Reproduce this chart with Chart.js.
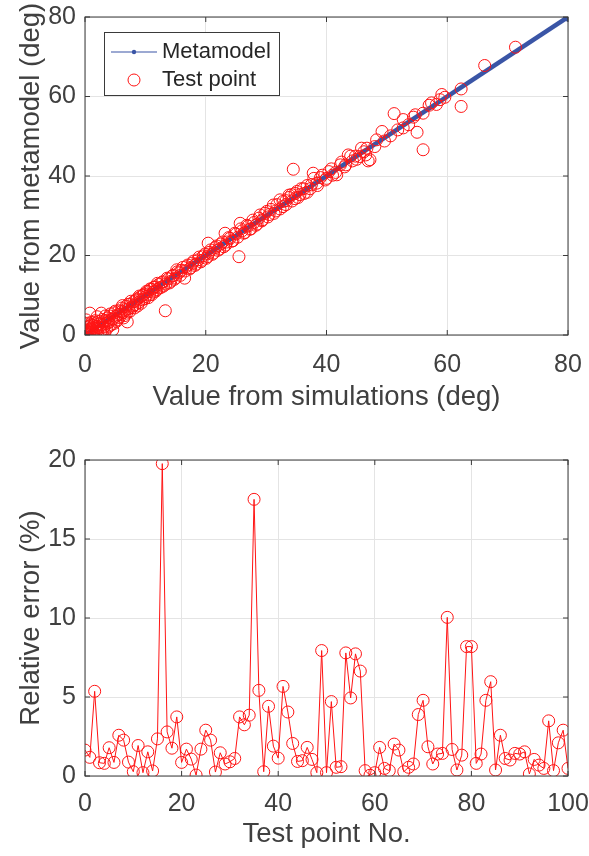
<!DOCTYPE html>
<html>
<head>
<meta charset="utf-8">
<script src="https://cdn.jsdelivr.net/npm/chart.js@4.4.1/dist/chart.umd.min.js"></script>
<style>
    html, body { margin: 0; padding: 0; background: #fff; }
    .caja { position: absolute; left: 0; width: 589px; height: 428px; }
</style>
</head>
<body>
<div class="caja" style="top:0"><canvas id="graficaAjuste" width="589" height="428"></canvas></div>
<div class="caja" style="top:428px"><canvas id="graficaError" width="589" height="428"></canvas></div>
<script>
// ======================
// DATOS
// ======================
// grafica de arriba: valor de simulacion vs valor del metamodelo
const simX = [0.1,0.2,0.3,0.4,0.5,0.6,0.2,0.8,0.9,1.0,0.8,1.2,1.3,1.5,1.6,1.8,2.0,2.1,2.3,2.5,
    2.7,2.8,3.0,3.2,3.3,3.5,3.7,3.9,4.1,4.3,4.6,4.7,4.9,5.1,5.4,5.6,5.8,6.1,6.3,6.6,
    6.8,7.0,7.2,7.5,7.8,8.1,8.3,8.6,8.9,9.2,9.5,9.8,10.1,10.4,10.7,11.0,11.3,11.6,11.9,12.2,
    12.6,12.9,13.3,13.4,13.8,14.2,14.6,15.0,15.2,15.5,16.0,16.5,16.8,17.3,17.8,18.2,18.7,19.2,19.6,20.1,
    20.4,20.6,21.1,21.6,22.0,22.5,23.0,23.2,23.5,24.0,24.5,25.0,25.5,25.7,26.0,26.5,27.0,27.5,28.0,28.5,
    29.0,29.4,30.1,30.5,31.2,31.6,32.3,32.8,33.3,33.8,34.2,34.5,34.8,35.1,35.6,36.2,36.8,37.5,37.8,38.4,
    39.0,39.8,40.4,41.0,41.7,42.3,43.0,43.6,44.3,44.8,45.5,46.2,46.7,46.9,47.2,48.0,48.3,49.2,49.6,50.6,
    51.2,51.8,52.7,52.7,53.6,54.4,54.7,55.0,56.0,56.0,57.0,57.4,58.2,58.8,59.1,59.6,62.3,62.3,66.2,71.3,
    0.1,0.3,0.4,0.6,0.7,0.9,1.1,1.1,1.4,1.4,1.7,1.9,2.0,2.2,2.4,2.6,2.9,3.1,3.4,3.6,
    3.8,4.0,4.2,4.4,4.8,5.0,5.2,5.5,5.7,6.0,6.2,6.4,6.7,6.9,7.1,7.4,7.6,7.9,8.2,8.5,
    8.7,9.0,9.3,9.6,9.9,10.2,10.5,10.8,11.1,11.4,11.7,12.0,12.3,12.7,13.0,13.6,14.0,14.4,14.8,15.3,
    15.8,16.2,16.6,17.0,17.5,18.0,18.4,18.9,19.4,19.9,20.3,20.8,21.3,21.8,22.3,22.8,23.3,23.8,24.3,24.8,
    25.3,25.8,26.3,26.8,27.3,27.8,28.3,28.8,29.3,29.8,30.3,30.8,31.3,31.8,32.3,32.8,33.3,33.8,34.3,34.8,
    35.3,35.8,36.3,36.8,37.3,37.9,38.5,39.3,40.0,40.8,41.5,42.5,43.2,44.0,45.0,45.8,46.5];
const metaY = [0.3,1.2,0.1,2.0,0.8,3.0,3.8,0.2,1.6,2.6,5.5,0.9,1.9,0.4,2.8,1.4,2.2,0.6,3.4,1.7,
    5.5,2.6,1.2,3.6,0.5,2.9,4.3,3.2,4.8,2.5,1.3,4.1,5.6,4.7,3.8,6.1,5.2,6.8,5.6,4.9,
    7.2,3.3,6.6,7.8,6.9,8.4,7.6,9.1,8.2,9.6,8.9,10.3,9.7,10.9,10.1,11.5,10.8,12.1,11.4,12.7,
    12.0,13.4,6.1,12.8,14.1,13.5,15.0,14.3,16.4,15.6,16.3,14.3,17.2,16.6,18.1,17.5,18.9,18.4,19.9,19.3,
    23.1,20.8,20.3,22.0,21.3,22.9,22.2,25.6,23.4,24.3,23.7,25.4,19.7,28.1,26.2,25.8,27.4,26.7,28.3,27.9,
    30.2,29.0,31.1,30.3,32.7,31.2,34.0,32.3,33.8,34.6,35.3,41.7,34.3,36.1,35.3,36.8,35.9,37.8,40.7,38.2,
    39.6,39.0,41.1,40.2,40.3,42.8,42.3,45.3,43.8,45.0,44.9,46.1,47.0,43.8,44.1,47.4,49.1,51.2,48.8,50.1,
    55.7,51.6,54.2,52.1,52.9,54.8,55.4,51.0,55.8,46.6,57.8,58.4,58.0,59.2,60.5,59.8,61.9,57.5,67.8,72.4,
    1.0,1.8,0.4,1.3,2.2,0.7,3.2,1.4,2.4,0.2,3.6,0.9,4.6,1.9,2.9,0.8,3.9,2.0,4.8,1.6,
    3.6,2.2,5.3,3.9,2.9,6.0,3.4,5.1,4.4,5.9,7.4,4.3,6.4,5.5,7.7,5.9,8.5,7.3,6.8,8.8,
    7.3,9.8,8.0,10.0,9.1,11.0,9.4,11.6,10.2,12.0,11.0,13.0,11.8,13.2,12.3,14.3,13.1,14.8,14.0,15.9,
    15.0,17.0,16.1,17.6,16.9,18.6,17.8,19.6,18.8,20.4,19.7,21.4,20.6,22.4,21.6,23.4,22.6,24.5,23.6,25.6,
    24.6,26.7,25.6,27.6,26.6,28.9,27.6,29.4,28.7,30.6,29.7,31.6,30.6,32.8,31.7,33.6,32.8,35.2,33.7,35.6,
    34.6,36.8,35.6,37.6,36.8,39.4,37.6,40.2,39.4,41.8,40.9,43.5,42.8,45.0,44.2,47.0,45.3];
const metaLineX = [0, 80];
const metaLineY = [0, 80];
const ticksAjuste = [0, 20, 40, 60, 80];

// grafica de abajo: error relativo por punto de prueba
const errorRel = [1.64,1.18,5.36,0.84,0.80,1.79,0.86,2.58,2.27,0.88,0.27,1.93,0.21,1.53,0.32,2.35,19.77,2.79,1.76,3.74,
    0.86,1.70,1.07,0.06,1.70,2.90,2.27,0.25,1.47,0.76,0.90,1.11,3.74,3.24,3.85,17.51,5.42,0.27,4.41,1.89,
    1.13,5.67,4.05,2.06,0.92,0.97,1.81,1.05,0.21,7.94,0.21,4.71,0.55,0.59,7.79,4.94,7.73,6.64,0.34,0.05,
    0.21,1.81,0.48,0.34,2.02,1.64,0.27,0.55,0.76,3.89,4.79,1.85,0.76,1.39,1.43,10.04,1.68,0.38,1.32,8.19,
    8.19,0.80,1.39,4.79,5.97,0.38,2.58,1.11,1.01,1.43,1.39,1.53,0.13,1.05,0.69,0.48,3.49,0.34,2.10,2.90,0.48];
const ticksPunto = [0, 20, 40, 60, 80, 100];
const ticksError = [0, 5, 10, 15, 20];

// ======================
// ESTILO
// ======================
const FUENTE = '"Liberation Sans", Arial, sans-serif';
const TEXTO = '#404040';
const REJILLA = '#e4e4e4';
const ROJO = '#ff1414';
const AZUL = '#3a55a6';

// caja alrededor del area y marcas hacia adentro (como matlab)
const marco = {
    id: 'marco',
    afterDraw(chart) {
        const { ctx, chartArea: a, scales } = chart;
        ctx.save();
        ctx.strokeStyle = '#3a3a3a';
        ctx.lineWidth = 1;
        ctx.strokeRect(a.left, a.top, a.right - a.left, a.bottom - a.top);
        ctx.beginPath();
        scales.x.ticks.forEach(t => {
            const px = scales.x.getPixelForValue(t.value);
            ctx.moveTo(px, a.bottom); ctx.lineTo(px, a.bottom - 5);
            ctx.moveTo(px, a.top); ctx.lineTo(px, a.top + 5);
        });
        scales.y.ticks.forEach(t => {
            const py = scales.y.getPixelForValue(t.value);
            ctx.moveTo(a.left, py); ctx.lineTo(a.left + 5, py);
            ctx.moveTo(a.right, py); ctx.lineTo(a.right - 5, py);
        });
        ctx.stroke();
        ctx.restore();
    }
};

// leyenda dentro del area, arriba a la izquierda
const leyenda = {
    id: 'leyenda',
    afterDraw(chart) {
        const ctx = chart.ctx;
        const x0 = 104, y0 = 32, w = 175, h = 63;
        ctx.save();
        ctx.fillStyle = '#fff';
        ctx.fillRect(x0, y0, w, h);
        ctx.strokeStyle = '#3a3a3a';
        ctx.lineWidth = 1;
        ctx.strokeRect(x0 + 0.5, y0 + 0.5, w, h);
        // Metamodel
        ctx.strokeStyle = AZUL;
        ctx.lineWidth = 1.2;
        ctx.beginPath(); ctx.moveTo(x0 + 7, y0 + 20); ctx.lineTo(x0 + 53, y0 + 20); ctx.stroke();
        ctx.fillStyle = AZUL;
        ctx.beginPath(); ctx.arc(x0 + 30, y0 + 20, 2.2, 0, Math.PI * 2); ctx.fill();
        // Test point
        ctx.strokeStyle = ROJO;
        ctx.lineWidth = 1;
        ctx.beginPath(); ctx.arc(x0 + 30, y0 + 48, 6, 0, Math.PI * 2); ctx.stroke();
        ctx.fillStyle = '#262626';
        ctx.font = '22px ' + FUENTE;
        ctx.textBaseline = 'middle';
        ctx.fillText('Metamodel', x0 + 58, y0 + 20);
        ctx.fillText('Test point', x0 + 58, y0 + 48);
        ctx.restore();
    }
};

function ejeLineal(min, max, valores, titulo, esX, tam, sepTicks, sepTitulo) {
    return {
        type: 'linear',
        min: min,
        max: max,
        afterBuildTicks: s => { s.ticks = valores.map(v => ({ value: v })); },
        ticks: {
            font: { family: FUENTE, size: 25 },
            color: TEXTO,
            padding: sepTicks
        },
        grid: { color: REJILLA, drawTicks: false },
        border: { display: false },
        title: {
            display: true,
            text: titulo,
            font: { family: FUENTE, size: 27.5 },
            color: TEXTO,
            padding: esX ? { top: 0, bottom: sepTitulo } : { top: sepTitulo, bottom: 0 }
        },
        afterFit: s => {
            // tamaño fijo y sin margen extra por las etiquetas de los extremos
            if (esX) { s.height = tam; } else { s.width = tam; }
            s.paddingTop = 0; s.paddingBottom = 0;
            s.paddingLeft = 0; s.paddingRight = 0;
        }
    };
}

function graficas() {
    new Chart(document.getElementById('graficaAjuste'), {
        type: 'scatter',
        data: {
            datasets: [
                {
                    label: 'Test point',
                    data: simX.map((x, i) => ({ x: x, y: metaY[i] })),
                    pointRadius: 6,
                    pointBorderWidth: 1,
                    borderColor: ROJO,
                    backgroundColor: 'rgba(0,0,0,0)',
                    showLine: false
                },
                {
                    label: 'Metamodel',
                    type: 'line',
                    data: metaLineX.map((x, i) => ({ x: x, y: metaLineY[i] })),
                    borderColor: AZUL,
                    backgroundColor: AZUL,
                    borderWidth: 4.5,
                    pointRadius: 2.5
                }
            ]
        },
        options: {
            responsive: false,
            animation: false,
            layout: { padding: { top: 17, right: 21, left: 0, bottom: 0 } },
            plugins: { legend: { display: false }, tooltip: { enabled: false } },
            scales: {
                x: ejeLineal(0, 80, ticksAjuste, 'Value from simulations (deg)', true, 93, 15, 14),
                y: ejeLineal(0, 80, ticksAjuste, 'Value from metamodel (deg)', false, 85, 9, 15)
            }
        },
        plugins: [marco, leyenda]
    });

    new Chart(document.getElementById('graficaError'), {
        type: 'line',
        data: {
            datasets: [{
                label: 'Relative error',
                data: errorRel.map((v, i) => ({ x: i, y: v })),
                borderColor: ROJO,
                backgroundColor: 'rgba(0,0,0,0)',
                borderWidth: 1,
                tension: 0,
                pointRadius: 6,
                pointBorderWidth: 1,
                pointBorderColor: ROJO,
                pointBackgroundColor: 'rgba(0,0,0,0)'
            }]
        },
        options: {
            responsive: false,
            animation: false,
            layout: { padding: { top: 32, right: 21, left: 0, bottom: 0 } },
            plugins: { legend: { display: false }, tooltip: { enabled: false } },
            scales: {
                x: ejeLineal(0, 100, ticksPunto, 'Test point No.', true, 80, 13, 5),
                y: ejeLineal(0, 20, ticksError, 'Relative error (%)', false, 85, 9, 15)
            }
        },
        plugins: [marco]
    });
}

document.addEventListener('DOMContentLoaded', graficas);
</script>
</body>
</html>
